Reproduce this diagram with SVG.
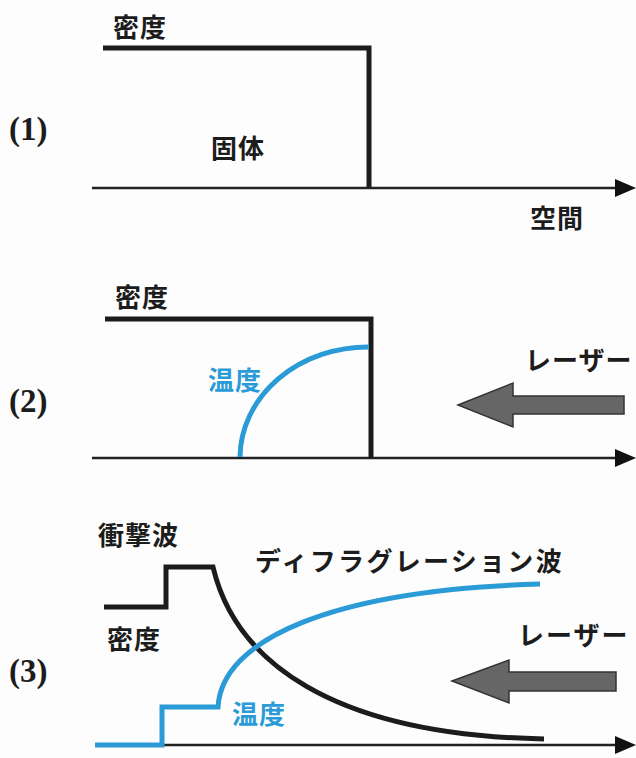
<svg xmlns="http://www.w3.org/2000/svg" width="636" height="758" viewBox="0 0 636 758">
<defs>
<style>
.jp{font-family:"Noto Sans CJK JP","Noto Sans CJK SC",sans-serif;font-weight:700;font-size:26px;fill:#1c1c1c}
.bl{fill:#2a9bd6}
.num{font-family:"Liberation Serif",serif;font-weight:700;font-size:33px;fill:#1c1c1c}
.thick{fill:none;stroke:#1c1c1c;stroke-width:5;stroke-linejoin:miter}
.blue{fill:none;stroke:#2a9bd6;stroke-width:5}
.axis{fill:none;stroke:#222;stroke-width:2.5}
.laser{fill:#666;stroke:#333;stroke-width:1.5}
</style>
<marker id="ah" markerUnits="userSpaceOnUse" markerWidth="22" markerHeight="20" refX="0" refY="9" orient="auto">
<path d="M0,0 L21,9 L0,18 Z" fill="#111"/>
</marker>
</defs>
<rect width="636" height="758" fill="#fdfdfd"/>

<g id="connectors">
<line class="axis" x1="92" y1="188" x2="615" y2="188" marker-end="url(#ah)"/>
<line class="axis" x1="92" y1="458" x2="615" y2="458" marker-end="url(#ah)"/>
<line class="axis" x1="160" y1="745" x2="615" y2="745" marker-end="url(#ah)"/>
</g>

<g id="panel1">
<text class="num" x="9" y="140">(1)</text>
<text class="jp" x="113" y="37" letter-spacing="1">密度</text>
<path id="p1-density" class="thick" d="M103,48 H369 V188"/>
<text class="jp" x="211" y="158" letter-spacing="1">固体</text>
<text class="jp" x="530" y="228" letter-spacing="1">空間</text>
</g>

<g id="panel2">
<text class="num" x="9" y="412">(2)</text>
<text class="jp" x="115" y="307" letter-spacing="1">密度</text>
<path id="p2-density" class="thick" d="M105,319 H371 V458"/>
<path id="p2-temp" class="blue" d="M240,457 A128,111 0 0 1 369,347"/>
<text class="jp bl" x="208" y="390" letter-spacing="1">温度</text>
<text class="jp" x="525" y="370" letter-spacing="1">レーザー</text>
<path id="p2-laser" class="laser" d="M458,405 L513,383 L513,396 L624,396 L624,414 L513,414 L513,427 Z"/>
</g>

<g id="panel3">
<text class="num" x="9" y="682">(3)</text>
<text class="jp" x="98" y="545" letter-spacing="1">衝撃波</text>
<text class="jp" x="255" y="571" letter-spacing="2.3">ディフラグレーション波</text>
<path id="p3-density" class="thick" d="M104,607 H166 V567 H213 C235,660 330,735 544,739"/>
<text class="jp" x="107" y="649" letter-spacing="1">密度</text>
<path id="p3-temp" class="blue" d="M95,745 H162 V707 H218 C222,640 330,590 540,584"/>
<text class="jp bl" x="232" y="724" letter-spacing="1">温度</text>
<text class="jp" x="518" y="645" letter-spacing="2">レーザー</text>
<path id="p3-laser" class="laser" d="M452,681 L509,660 L509,672 L616,672 L616,691 L509,691 L509,703 Z"/>
</g>
</svg>
